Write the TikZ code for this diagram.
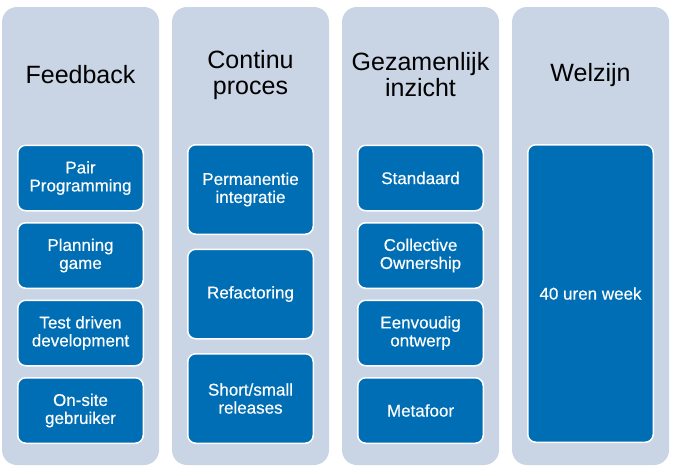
\documentclass[tikz,border=0pt]{standalone}
\usepackage{fontspec}
\setmainfont{Liberation Sans}
\newfontfamily\itemfont[FakeBold=0.4]{Liberation Sans}
\definecolor{panelgray}{RGB}{201,212,228}
\definecolor{boxblue}{RGB}{0,110,180}
\tikzset{
  panel/.style={rectangle,rounded corners=15pt,fill=panelgray,draw=none,
    minimum width=157pt,minimum height=458pt,inner sep=0pt},
  title/.style={align=center,text=black,font=\fontsize{25}{26}\selectfont},
  item/.style={rectangle,rounded corners=8pt,fill=boxblue,draw=white,line width=1.5pt,
    minimum width=125.5pt,text=white,align=center,inner sep=2pt,
    font=\itemfont\fontsize{17}{18}\selectfont},
}
\begin{document}
\begin{tikzpicture}[x=1pt,y=-1pt]
\useasboundingbox (0,0) rectangle (676,475);
\node at (80.5,236) [panel] (p1) {};
\node at (250.5,236) [panel] (p2) {};
\node at (420.5,236) [panel] (p3) {};
\node at (590.5,236) [panel] (p4) {};
%
\node at (80.5,75) [title] (t1) {Feedback};
\node at (250.5,75) [title] (t2) {Continu\\proces};
\node at (420.5,75) [title] (t3) {Gezamenlijk\\inzicht};
\node at (590.5,75) [title] (t4) {Welzijn};
%
\node at (80.5,178) [item,minimum height=65.5pt] (b10) {Pair\\Programming};
\node at (80.5,255.5) [item,minimum height=65.5pt] (b11) {Planning\\game};
\node at (80.5,333) [item,minimum height=65.5pt] (b12) {Test driven\\development};
\node at (80.5,410.5) [item,minimum height=65.5pt] (b13) {On-site\\gebruiker};
%
\node at (250.5,189.5) [item,minimum height=89.5pt] (b20) {Permanentie\\integratie};
\node at (250.5,294) [item,minimum height=89.5pt] (b21) {Refactoring};
\node at (250.5,398.5) [item,minimum height=89.5pt] (b22) {Short/small\\releases};
%
\node at (420.5,178) [item,minimum height=65.5pt] (b30) {Standaard};
\node at (420.5,255.5) [item,minimum height=65.5pt] (b31) {Collective\\Ownership};
\node at (420.5,333) [item,minimum height=65.5pt] (b32) {Eenvoudig\\ontwerp};
\node at (420.5,410.5) [item,minimum height=65.5pt] (b33) {Metafoor};
%
\node at (590.5,293.5) [item,minimum height=297.5pt] (b40) {40 uren week};
\end{tikzpicture}
\end{document}
